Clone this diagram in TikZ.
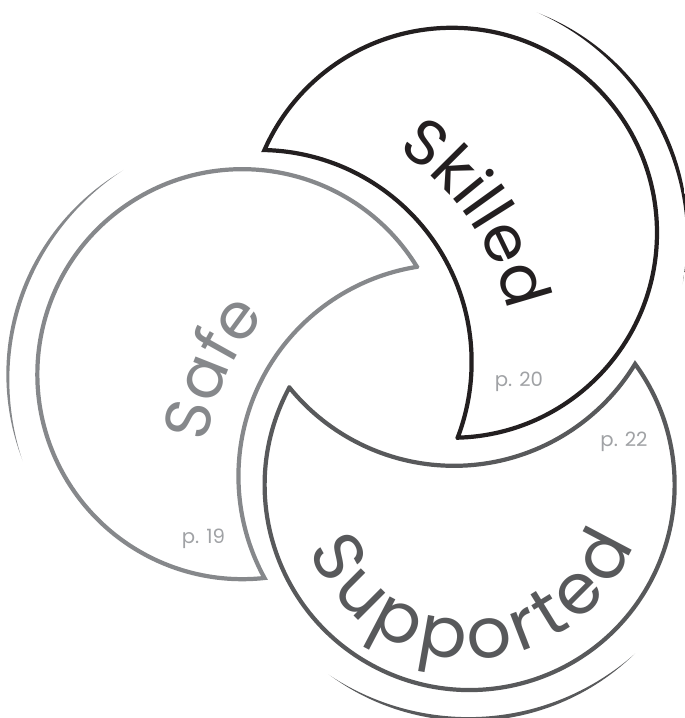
\documentclass[tikz,border=0pt]{standalone}
\usepackage{fontspec}
\newfontfamily\popfont{Poppins}
\usetikzlibrary{calc,decorations.text}
\definecolor{skilledcol}{RGB}{35,31,32}
\definecolor{safecol}{RGB}{134,136,139}
\definecolor{supportedcol}{RGB}{88,89,91}
\definecolor{pagecol}{RGB}{160,162,165}

\tikzset{
  crescent/.style={line width=1.2pt},
  rim/.style={even odd rule},
  pagelabel/.style={font=\popfont\fontsize{5.6}{6}\selectfont, text=pagecol, inner sep=0pt},
}

\begin{document}
\begin{tikzpicture}[x=0.01cm, y=0.01cm]
\useasboundingbox (0,0) rectangle (685,718);
\coordinate (O) at (388,354);

% Skilled
\begin{scope}[shift={(O)}, rotate=64]
  \draw[crescent, skilledcol] (146,0) ++(207.6:205) arc[start angle=207.6, end angle=452.2, radius=205]
    arc[start angle=24.7, end angle=-84.9, radius=212] -- cycle;
  \clip (146,0) circle (236);
  \fill[rim, skilledcol] (-300,-300) rectangle (500,300) (146,0) ++(144:18.7) circle (250.7);
\end{scope}

% Safe
\begin{scope}[shift={(O)}, rotate=184]
  \draw[crescent, safecol] (146,0) ++(207.6:205) arc[start angle=207.6, end angle=452.2, radius=205]
    arc[start angle=24.7, end angle=-84.9, radius=212] -- cycle;
  \clip (146,0) circle (236);
  \fill[rim, safecol] (-300,-300) rectangle (500,300) (146,0) ++(157:18.7) circle (250.7);
\end{scope}

% Supported
\begin{scope}[shift={(O)}, rotate=304]
  \draw[crescent, supportedcol] (146,0) ++(207.6:205) arc[start angle=207.6, end angle=452.2, radius=205]
    arc[start angle=24.7, end angle=-84.9, radius=212] -- cycle;
  \clip (146,0) circle (236);
  \fill[rim, supportedcol] (-300,-300) rectangle (500,300) (146,0) ++(150:18.7) circle (250.7);
\end{scope}

% titles
\path[decorate, decoration={text along path, text align=center, text color=skilledcol,
    text={|\popfont\fontsize{18.2}{20}\selectfont|Skilled}}]
  (259.7,356) ++(94.3:253) arc[start angle=94.3, end angle=-25.7, radius=253];
\path[decorate, decoration={text along path, text align=center, text color=safecol,
    text={|\popfont\fontsize{18.2}{20}\selectfont|Safe}}]
  (450.4,241.9) ++(215.65:245) arc[start angle=215.65, end angle=95.65, radius=245];
\path[decorate, decoration={text along path, text align=fit to path, text color=supportedcol,
    text={|\popfont\fontsize{20}{22}\selectfont|Supported}}]
  (469.6,233) ++(202:174) arc[start angle=202, end angle=340, radius=174];

% pages
\node[pagelabel] (p20) at (519,336) {p. 20};
\node[pagelabel] (p22) at (624,276) {p. 22};
\node[pagelabel] (p19) at (203.5,179) {p. 19};
\end{tikzpicture}
\end{document}
